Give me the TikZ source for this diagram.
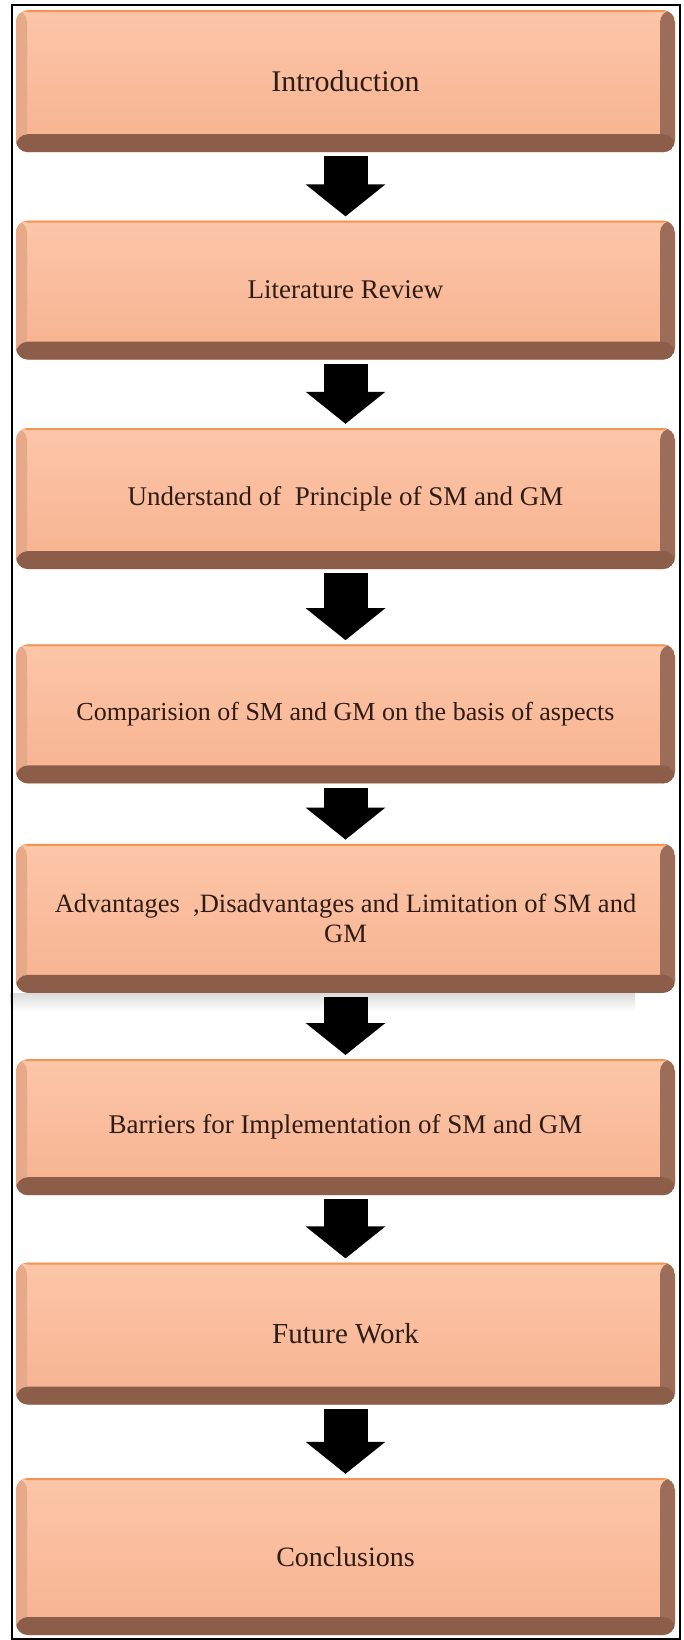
\documentclass[tikz,border=0pt]{standalone}
\usepackage{fontspec}
\setmainfont{Liberation Serif}
\usepackage{xcolor}
\usetikzlibrary{positioning,arrows.meta}

\definecolor{facetop}{HTML}{FCC6A8}
\definecolor{facebot}{HTML}{F7B290}
\definecolor{bevelbot}{HTML}{8C5E4A}
\definecolor{bevelright}{HTML}{9C6D58}
\definecolor{bevelleft}{HTML}{E6A98A}
\definecolor{rimtop}{HTML}{F29454}
\definecolor{labeltext}{HTML}{2E1C16}

\tikzset{
    stage/.style={
        rounded corners=12pt, minimum width=659pt, minimum height=#1,
        inner sep=0pt, align=center, text=labeltext,
        font=\fontsize{27}{31}\selectfont,
        top color=facetop, bottom color=facebot,
        path picture={
            \fill[bevelleft] (path picture bounding box.south west) rectangle ([xshift=11pt]path picture bounding box.north west);
            \fill[bevelright] (path picture bounding box.south east) rectangle ([xshift=-15pt]path picture bounding box.north east);
            \fill[bevelbot] (path picture bounding box.south west) rectangle ([yshift=18pt]path picture bounding box.south east);
            \fill[rimtop] (path picture bounding box.north west) rectangle ([yshift=-2pt]path picture bounding box.north east);
        }
    },
    stage/.default=140pt,
    flowarrow/.style={
        line width=44pt, draw=black,
        -{Triangle[width=78pt, length=32pt]},
        shorten <=4pt, shorten >=4pt
    },
    glow/.style={top color=black!14, bottom color=white, draw=none}
}

\begin{document}
\begin{tikzpicture}[x=1pt, y=1pt]
    \useasboundingbox (0,0) rectangle (683,-1640);

    % stages of the study
    \node[stage=142pt, anchor=north, font=\fontsize{30}{34}\selectfont] (intro) at (345.5,-10) {Introduction};
    \node[stage=139pt, below=68pt of intro] (litrev) {Literature Review};
    \node[stage=141pt, below=68pt of litrev] (principle) {Understand of \ Principle of SM and GM};
    \node[stage=139pt, below=75pt of principle, font=\fontsize{26}{30}\selectfont] (compare) {Comparision of SM and GM on the basis of aspects};
    \node[stage=149pt, below=60pt of compare, font=\fontsize{26.5}{30}\selectfont] (advant) {Advantages \ ,Disadvantages and Limitation of SM and\\GM};
    \node[stage=136pt, below=66pt of advant] (barrier) {Barriers for Implementation of SM and GM};
    \node[stage=142pt, below=67pt of barrier, font=\fontsize{29}{33}\selectfont] (future) {Future Work};
    \node[stage=157pt, below=73pt of future, font=\fontsize{28}{32}\selectfont] (concl) {Conclusions};

    % faint shadow under the long box
    \shade[glow] ([xshift=-6pt]advant.south west) rectangle ([xshift=-40pt, yshift=-18pt]advant.south east);

    % block arrows
    \draw[flowarrow] (intro) -- (litrev);
    \draw[flowarrow] (litrev) -- (principle);
    \draw[flowarrow] (principle) -- (compare);
    \draw[flowarrow] (compare) -- (advant);
    \draw[flowarrow] (advant) -- (barrier);
    \draw[flowarrow] (barrier) -- (future);
    \draw[flowarrow] (future) -- (concl);

    \draw[line width=2pt] (12,-5) rectangle (680,-1639);
\end{tikzpicture}
\end{document}
